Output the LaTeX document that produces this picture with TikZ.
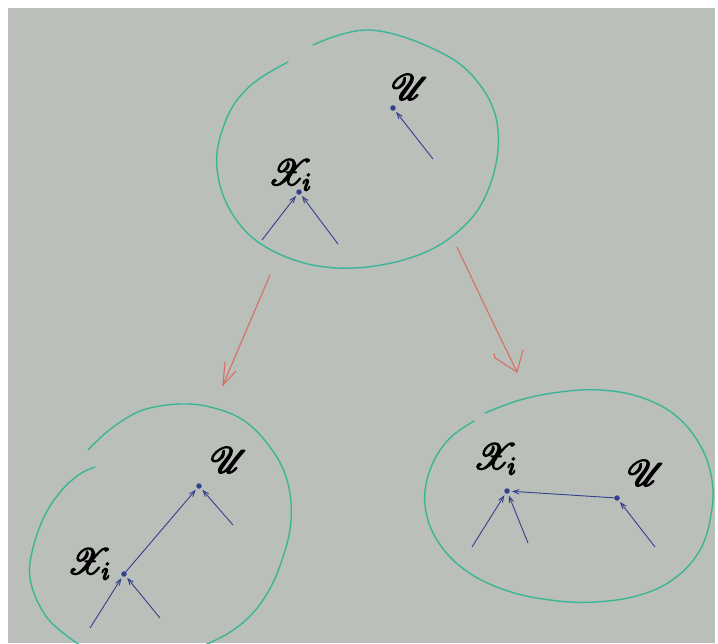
\documentclass[tikz,border=0pt]{standalone}
\usepackage{amsmath}
\usepackage{graphicx}
\usepackage{mathrsfs}
\usetikzlibrary{arrows.meta}
\definecolor{paper}{RGB}{186,191,185}
\definecolor{ink}{RGB}{58,182,150}
\definecolor{pen}{RGB}{52,64,140}
\definecolor{redpen}{RGB}{214,112,100}
% thicken glyphs by stroking their outlines as well as filling them
\newcommand\penmark[1]{\scalebox{1.75}{\special{pdf:literal direct 2 Tr 0.8 w 0 G}#1\special{pdf:literal direct 0 Tr}}}
\tikzset{
  ring/.style={draw=ink, line width=1.4pt, line cap=round, smooth, tension=0.65},
  dot/.style={circle, fill=pen, inner sep=0pt, minimum size=5.5pt},
  edge/.style={draw=pen, line width=0.9pt, -{Straight Barb[length=6pt,width=4.5pt]}, shorten >=2pt},
  flow/.style={draw=redpen, line width=1.1pt, line cap=round},
  lab/.style={text=black, font=\fontsize{20}{20}\selectfont, inner sep=0pt}
}
\begin{document}
\begin{tikzpicture}[x=1pt,y=-1pt]
\useasboundingbox (0,0) rectangle (718,643);
\fill[white] (0,0) rectangle (718,643);
\fill[paper] (8,8) rectangle (715,643);
\begin{scope}
\clip (8,8) rectangle (715,643);

% top set
\draw[ring] plot coordinates {(313,45) (370,30) (440,52) (480,85) (498,130) (490,185) (462,228) (410,258) (337,268) (275,252) (235,218) (217,168) (226,120) (250,86) (288,62)};
\node[dot] (tu) at (393,108) {};
\node[lab] at (410,87) {\penmark{$\mathscr{U}$}};
\node[dot] (tx) at (299,192) {};
\node[lab] at (290,175) {\penmark{$\mathscr{X}_{i}$}};
\coordinate (tua) at (433,159);
\coordinate (txa) at (262,240);
\coordinate (txb) at (338,244);
\draw[edge] (tua) -- (tu);
\draw[edge] (txa) -- (tx);
\draw[edge] (txb) -- (tx);

% bottom-left set: the stroke restarts at its upper left
\draw[ring] plot coordinates {(95,467) (80,474) (62,490) (45,515) (33,548) (30,578) (42,610) (62,632) (95,652) (150,665) (205,645) (240,625) (265,597) (282,560) (291,520) (287,480) (270,447) (243,420) (210,407) (180,404) (150,408) (130,416) (108,431) (88,450)};
\node[dot] (lu) at (199,486) {};
\node[lab] at (229,460) {\penmark{$\mathscr{U}$}};
\node[dot] (lx) at (124,574) {};
\node[lab] at (89,564) {\penmark{$\mathscr{X}_{i}$}};
\coordinate (lua) at (233,525);
\coordinate (lxa) at (90,628);
\coordinate (lxb) at (160,618);
\draw[edge] (lx) -- (lu);
\draw[edge] (lua) -- (lu);
\draw[edge] (lxa) -- (lx);
\draw[edge] (lxb) -- (lx);

% bottom-right set
\draw[ring] plot coordinates {(485,413) (520,400) (560,392) (600,390) (640,397) (675,415) (700,445) (712,480) (711,515) (700,550) (675,578) (640,595) (595,602) (550,600) (505,590) (465,570) (437,540) (425,505) (430,470) (448,440) (474,421)};
\node[dot] (ru) at (617,498) {};
\node[lab] at (646,473) {\penmark{$\mathscr{U}$}};
\node[dot] (rx) at (507,491) {};
\node[lab] at (495,459) {\penmark{$\mathscr{X}_{i}$}};
\coordinate (rua) at (655,547);
\coordinate (rxa) at (472,547);
\coordinate (rxb) at (528,543);
\draw[edge] (ru) -- (rx);
\draw[edge] (rua) -- (ru);
\draw[edge] (rxa) -- (rx);
\draw[edge] (rxb) -- (rx);

% transitions between the sets, with hand-drawn open heads
\coordinate (fa) at (270,275);
\coordinate (fb) at (223,385);
\coordinate (fb1) at (225,362);
\coordinate (fb2) at (236,371);
\coordinate (ga) at (457,247);
\coordinate (gb) at (517,372);
\coordinate (gb1) at (494,354);
\coordinate (gb2) at (523,350);
\draw[flow] (fa) -- (fb);
\draw[flow] (fb1) -- (fb) -- (fb2);
\draw[flow] (ga) .. controls (482,300) .. (gb);
\draw[flow] (gb1) -- ++(1,4) -- (gb) -- (gb2);
\end{scope}
\end{tikzpicture}
\end{document}
